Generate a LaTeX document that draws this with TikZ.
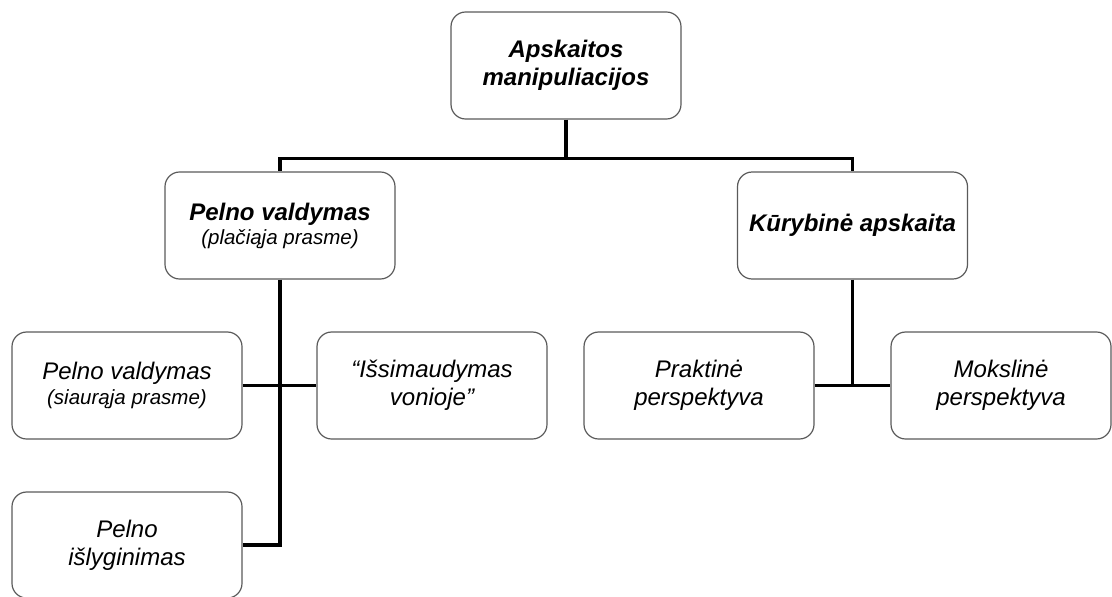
\documentclass[tikz,border=0pt]{standalone}
\usepackage{fontspec}
\setmainfont{Liberation Sans}
\definecolor{boxgray}{HTML}{5A5A5A}
\begin{document}
\begin{tikzpicture}[x=0.75pt,y=-0.75pt,
  box/.style={draw=boxgray, line width=0.9pt, rounded corners=11pt, fill=white,
    inner sep=0pt, align=center, minimum width=172.5pt, minimum height=80.25pt,
    font=\fontsize{18}{21}\selectfont\itshape},
  conn/.style={line width=2.7pt, black, line join=miter},
  small/.style={}]
\path[use as bounding box, clip] (0,0) rectangle (1112,596);
% nodes
\node[box] (top) at (566,65.5) {\bfseries Apskaitos\\\bfseries manipuliacijos};
\node[box] (pv) at (280,225.5) {\bfseries Pelno valdymas\\[-3pt]{\fontsize{15.4}{17}\selectfont (plačiąja prasme)}};
\node[box] (ka) at (852.5,225.5) {\bfseries Kūrybinė apskaita};
\node[box] (siaur) at (127,385.5) {Pelno valdymas\\[-2pt]{\fontsize{15.4}{17}\selectfont (siaurąja prasme)}};
\node[box] (issi) at (432,385.5) {“Išsimaudymas\\vonioje”};
\node[box] (prak) at (699,385.5) {Praktinė\\perspektyva};
\node[box, minimum width=165pt] (mok) at (1001,385.5) {Mokslinė\\perspektyva};
\node[box, minimum height=79.5pt] (isl) at (127,545) {Pelno\\išlyginimas};
% connectors
\path (top.south) ++(0,39) coordinate (hub);
\draw[conn] (top) -- (hub);
\draw[conn] (hub) -| (pv);
\draw[conn] (hub) -| (ka);
\draw[conn] (pv) |- (isl);
\draw[conn] (siaur) -- (issi);
\path (ka.south |- prak) coordinate (rj);
\draw[conn] (ka) -- (rj);
\draw[conn] (prak) -- (mok);
\end{tikzpicture}
\end{document}
